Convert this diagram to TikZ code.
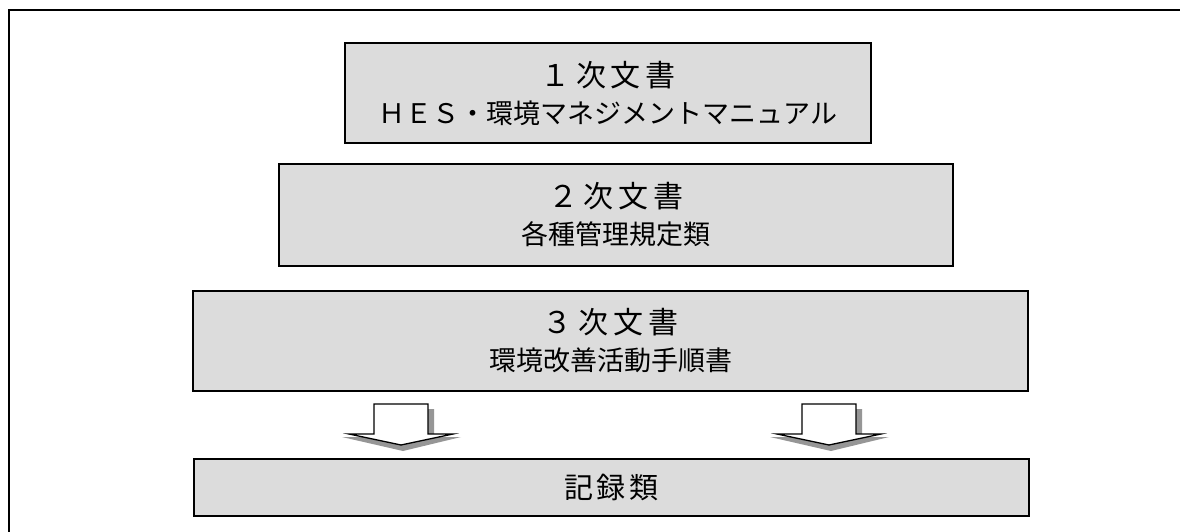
\documentclass[tikz,border=0pt]{standalone}
\usepackage{fontspec}
\newfontfamily\jp{Noto Sans CJK JP}
\usetikzlibrary{calc}
\definecolor{boxgray}{RGB}{220,220,220}
\definecolor{shadowgray}{RGB}{150,150,150}
\newcommand{\headline}[1]{{\fontsize{30pt}{37pt}\selectfont #1\hspace{6pt}次\hspace{5pt}文\hspace{5pt}書}}
\begin{document}
\begin{tikzpicture}[x=1pt,y=-1pt,
  doc/.style={draw=black, line width=1.6pt, fill=boxgray, align=center, inner sep=0pt,
    font=\jp\fontsize{27pt}{37pt}\selectfont},
  frame/.style={draw=black, line width=2.5pt},
  blockarrow/.style={draw=black, line width=1.3pt, fill=white, line join=miter},
  arrowshadow/.style={fill=shadowgray, draw=none}]
\useasboundingbox (0,0) rectangle (1180,532);
\clip (0,0) rectangle (1180,532);
\fill[white] (0,0) rectangle (1180,532);
% outer frame (continues beyond the visible area)
\draw[frame] (9,10) rectangle (1300,700);
% document boxes
\node[doc, minimum width=526pt, minimum height=100pt] (b1) at (608,93)
  {\headline{１}\\ＨＥＳ・環境マネジメントマニュアル};
\node[doc, minimum width=674pt, minimum height=102pt] (b2) at (616,215)
  {\headline{２}\\各種管理規定類};
\node[doc, minimum width=835pt, minimum height=100pt] (b3) at (610.5,341)
  {\headline{３}\\環境改善活動手順書};
\node[doc, minimum width=835pt, minimum height=57pt] (b4) at (611.5,487.5)
  {\fontsize{29pt}{37pt}\selectfont 記\hspace{4pt}録\hspace{4pt}類};
% block arrows from b3 to b4
\coordinate (la) at (401,404);
\coordinate (ra) at (829,404);
\foreach \c in {la,ra}{
  \fill[arrowshadow] ($(\c)+(-21,5)$) -- ($(\c)+(33,5)$) -- ($(\c)+(33,33)$)
     -- ($(\c)+(60,33)$) -- ($(\c)+(2,47)$) -- ($(\c)+(-59,33)$) -- ($(\c)+(-21,33)$) -- cycle;
  \draw[blockarrow] ($(\c)+(-27,0)$) -- ($(\c)+(27,0)$) -- ($(\c)+(27,30)$)
     -- ($(\c)+(52,30)$) -- ($(\c)+(0,41)$) -- ($(\c)+(-52,30)$) -- ($(\c)+(-27,30)$) -- cycle;
}
\end{tikzpicture}
\end{document}
